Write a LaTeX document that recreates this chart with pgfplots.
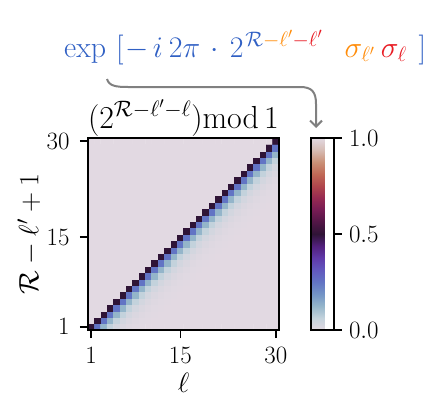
\RequirePackage{fix-cm}
\documentclass[border=0pt]{standalone}
\usepackage{pgfplots}
\pgfplotsset{compat=1.18}
\usetikzlibrary{arrows.meta}
\definecolor{hwblue}{RGB}{48,96,196}
\definecolor{hworange}{RGB}{255,140,10}
\definecolor{hwred}{RGB}{232,28,36}
\pgfplotsset{
  colormap={twilight}{
    rgb255=(226,217,226) rgb255=(195,210,220) rgb255=(148,181,202) rgb255=(115,148,198)
    rgb255=(98,116,196) rgb255=(98,88,190) rgb255=(96,58,170) rgb255=(82,32,125)
    rgb255=(47,20,54) rgb255=(82,22,70) rgb255=(118,28,84) rgb255=(150,42,82)
    rgb255=(176,70,76) rgb255=(192,105,86) rgb255=(202,145,120) rgb255=(214,188,180)
    rgb255=(226,217,226)}
}
\newcommand{\tickfont}{\fontsize{25}{29}\selectfont}
\newcommand{\labfont}{\fontsize{28}{32}\selectfont}
\newcommand{\titfont}{\fontsize{32}{36}\selectfont}
\pgfplotstableread[row sep=\\]{
x y v\\
1 1 0.5\\2 1 0.25\\3 1 0.125\\4 1 0.0625\\5 1 0.031\\6 1 0.016\\7 1 0.008\\8 1 0.004\\9 1 0.002\\10 1 0\\11 1 0\\12 1 0\\13 1 0\\14 1 0\\15 1 0\\16 1 0\\17 1 0\\18 1 0\\19 1 0\\20 1 0\\21 1 0\\22 1 0\\23 1 0\\24 1 0\\25 1 0\\26 1 0\\27 1 0\\28 1 0\\29 1 0\\30 1 0\\
1 2 0\\2 2 0.5\\3 2 0.25\\4 2 0.125\\5 2 0.0625\\6 2 0.031\\7 2 0.016\\8 2 0.008\\9 2 0.004\\10 2 0.002\\11 2 0\\12 2 0\\13 2 0\\14 2 0\\15 2 0\\16 2 0\\17 2 0\\18 2 0\\19 2 0\\20 2 0\\21 2 0\\22 2 0\\23 2 0\\24 2 0\\25 2 0\\26 2 0\\27 2 0\\28 2 0\\29 2 0\\30 2 0\\
1 3 0\\2 3 0\\3 3 0.5\\4 3 0.25\\5 3 0.125\\6 3 0.0625\\7 3 0.031\\8 3 0.016\\9 3 0.008\\10 3 0.004\\11 3 0.002\\12 3 0\\13 3 0\\14 3 0\\15 3 0\\16 3 0\\17 3 0\\18 3 0\\19 3 0\\20 3 0\\21 3 0\\22 3 0\\23 3 0\\24 3 0\\25 3 0\\26 3 0\\27 3 0\\28 3 0\\29 3 0\\30 3 0\\
1 4 0\\2 4 0\\3 4 0\\4 4 0.5\\5 4 0.25\\6 4 0.125\\7 4 0.0625\\8 4 0.031\\9 4 0.016\\10 4 0.008\\11 4 0.004\\12 4 0.002\\13 4 0\\14 4 0\\15 4 0\\16 4 0\\17 4 0\\18 4 0\\19 4 0\\20 4 0\\21 4 0\\22 4 0\\23 4 0\\24 4 0\\25 4 0\\26 4 0\\27 4 0\\28 4 0\\29 4 0\\30 4 0\\
1 5 0\\2 5 0\\3 5 0\\4 5 0\\5 5 0.5\\6 5 0.25\\7 5 0.125\\8 5 0.0625\\9 5 0.031\\10 5 0.016\\11 5 0.008\\12 5 0.004\\13 5 0.002\\14 5 0\\15 5 0\\16 5 0\\17 5 0\\18 5 0\\19 5 0\\20 5 0\\21 5 0\\22 5 0\\23 5 0\\24 5 0\\25 5 0\\26 5 0\\27 5 0\\28 5 0\\29 5 0\\30 5 0\\
1 6 0\\2 6 0\\3 6 0\\4 6 0\\5 6 0\\6 6 0.5\\7 6 0.25\\8 6 0.125\\9 6 0.0625\\10 6 0.031\\11 6 0.016\\12 6 0.008\\13 6 0.004\\14 6 0.002\\15 6 0\\16 6 0\\17 6 0\\18 6 0\\19 6 0\\20 6 0\\21 6 0\\22 6 0\\23 6 0\\24 6 0\\25 6 0\\26 6 0\\27 6 0\\28 6 0\\29 6 0\\30 6 0\\
1 7 0\\2 7 0\\3 7 0\\4 7 0\\5 7 0\\6 7 0\\7 7 0.5\\8 7 0.25\\9 7 0.125\\10 7 0.0625\\11 7 0.031\\12 7 0.016\\13 7 0.008\\14 7 0.004\\15 7 0.002\\16 7 0\\17 7 0\\18 7 0\\19 7 0\\20 7 0\\21 7 0\\22 7 0\\23 7 0\\24 7 0\\25 7 0\\26 7 0\\27 7 0\\28 7 0\\29 7 0\\30 7 0\\
1 8 0\\2 8 0\\3 8 0\\4 8 0\\5 8 0\\6 8 0\\7 8 0\\8 8 0.5\\9 8 0.25\\10 8 0.125\\11 8 0.0625\\12 8 0.031\\13 8 0.016\\14 8 0.008\\15 8 0.004\\16 8 0.002\\17 8 0\\18 8 0\\19 8 0\\20 8 0\\21 8 0\\22 8 0\\23 8 0\\24 8 0\\25 8 0\\26 8 0\\27 8 0\\28 8 0\\29 8 0\\30 8 0\\
1 9 0\\2 9 0\\3 9 0\\4 9 0\\5 9 0\\6 9 0\\7 9 0\\8 9 0\\9 9 0.5\\10 9 0.25\\11 9 0.125\\12 9 0.0625\\13 9 0.031\\14 9 0.016\\15 9 0.008\\16 9 0.004\\17 9 0.002\\18 9 0\\19 9 0\\20 9 0\\21 9 0\\22 9 0\\23 9 0\\24 9 0\\25 9 0\\26 9 0\\27 9 0\\28 9 0\\29 9 0\\30 9 0\\
1 10 0\\2 10 0\\3 10 0\\4 10 0\\5 10 0\\6 10 0\\7 10 0\\8 10 0\\9 10 0\\10 10 0.5\\11 10 0.25\\12 10 0.125\\13 10 0.0625\\14 10 0.031\\15 10 0.016\\16 10 0.008\\17 10 0.004\\18 10 0.002\\19 10 0\\20 10 0\\21 10 0\\22 10 0\\23 10 0\\24 10 0\\25 10 0\\26 10 0\\27 10 0\\28 10 0\\29 10 0\\30 10 0\\
1 11 0\\2 11 0\\3 11 0\\4 11 0\\5 11 0\\6 11 0\\7 11 0\\8 11 0\\9 11 0\\10 11 0\\11 11 0.5\\12 11 0.25\\13 11 0.125\\14 11 0.0625\\15 11 0.031\\16 11 0.016\\17 11 0.008\\18 11 0.004\\19 11 0.002\\20 11 0\\21 11 0\\22 11 0\\23 11 0\\24 11 0\\25 11 0\\26 11 0\\27 11 0\\28 11 0\\29 11 0\\30 11 0\\
1 12 0\\2 12 0\\3 12 0\\4 12 0\\5 12 0\\6 12 0\\7 12 0\\8 12 0\\9 12 0\\10 12 0\\11 12 0\\12 12 0.5\\13 12 0.25\\14 12 0.125\\15 12 0.0625\\16 12 0.031\\17 12 0.016\\18 12 0.008\\19 12 0.004\\20 12 0.002\\21 12 0\\22 12 0\\23 12 0\\24 12 0\\25 12 0\\26 12 0\\27 12 0\\28 12 0\\29 12 0\\30 12 0\\
1 13 0\\2 13 0\\3 13 0\\4 13 0\\5 13 0\\6 13 0\\7 13 0\\8 13 0\\9 13 0\\10 13 0\\11 13 0\\12 13 0\\13 13 0.5\\14 13 0.25\\15 13 0.125\\16 13 0.0625\\17 13 0.031\\18 13 0.016\\19 13 0.008\\20 13 0.004\\21 13 0.002\\22 13 0\\23 13 0\\24 13 0\\25 13 0\\26 13 0\\27 13 0\\28 13 0\\29 13 0\\30 13 0\\
1 14 0\\2 14 0\\3 14 0\\4 14 0\\5 14 0\\6 14 0\\7 14 0\\8 14 0\\9 14 0\\10 14 0\\11 14 0\\12 14 0\\13 14 0\\14 14 0.5\\15 14 0.25\\16 14 0.125\\17 14 0.0625\\18 14 0.031\\19 14 0.016\\20 14 0.008\\21 14 0.004\\22 14 0.002\\23 14 0\\24 14 0\\25 14 0\\26 14 0\\27 14 0\\28 14 0\\29 14 0\\30 14 0\\
1 15 0\\2 15 0\\3 15 0\\4 15 0\\5 15 0\\6 15 0\\7 15 0\\8 15 0\\9 15 0\\10 15 0\\11 15 0\\12 15 0\\13 15 0\\14 15 0\\15 15 0.5\\16 15 0.25\\17 15 0.125\\18 15 0.0625\\19 15 0.031\\20 15 0.016\\21 15 0.008\\22 15 0.004\\23 15 0.002\\24 15 0\\25 15 0\\26 15 0\\27 15 0\\28 15 0\\29 15 0\\30 15 0\\
1 16 0\\2 16 0\\3 16 0\\4 16 0\\5 16 0\\6 16 0\\7 16 0\\8 16 0\\9 16 0\\10 16 0\\11 16 0\\12 16 0\\13 16 0\\14 16 0\\15 16 0\\16 16 0.5\\17 16 0.25\\18 16 0.125\\19 16 0.0625\\20 16 0.031\\21 16 0.016\\22 16 0.008\\23 16 0.004\\24 16 0.002\\25 16 0\\26 16 0\\27 16 0\\28 16 0\\29 16 0\\30 16 0\\
1 17 0\\2 17 0\\3 17 0\\4 17 0\\5 17 0\\6 17 0\\7 17 0\\8 17 0\\9 17 0\\10 17 0\\11 17 0\\12 17 0\\13 17 0\\14 17 0\\15 17 0\\16 17 0\\17 17 0.5\\18 17 0.25\\19 17 0.125\\20 17 0.0625\\21 17 0.031\\22 17 0.016\\23 17 0.008\\24 17 0.004\\25 17 0.002\\26 17 0\\27 17 0\\28 17 0\\29 17 0\\30 17 0\\
1 18 0\\2 18 0\\3 18 0\\4 18 0\\5 18 0\\6 18 0\\7 18 0\\8 18 0\\9 18 0\\10 18 0\\11 18 0\\12 18 0\\13 18 0\\14 18 0\\15 18 0\\16 18 0\\17 18 0\\18 18 0.5\\19 18 0.25\\20 18 0.125\\21 18 0.0625\\22 18 0.031\\23 18 0.016\\24 18 0.008\\25 18 0.004\\26 18 0.002\\27 18 0\\28 18 0\\29 18 0\\30 18 0\\
1 19 0\\2 19 0\\3 19 0\\4 19 0\\5 19 0\\6 19 0\\7 19 0\\8 19 0\\9 19 0\\10 19 0\\11 19 0\\12 19 0\\13 19 0\\14 19 0\\15 19 0\\16 19 0\\17 19 0\\18 19 0\\19 19 0.5\\20 19 0.25\\21 19 0.125\\22 19 0.0625\\23 19 0.031\\24 19 0.016\\25 19 0.008\\26 19 0.004\\27 19 0.002\\28 19 0\\29 19 0\\30 19 0\\
1 20 0\\2 20 0\\3 20 0\\4 20 0\\5 20 0\\6 20 0\\7 20 0\\8 20 0\\9 20 0\\10 20 0\\11 20 0\\12 20 0\\13 20 0\\14 20 0\\15 20 0\\16 20 0\\17 20 0\\18 20 0\\19 20 0\\20 20 0.5\\21 20 0.25\\22 20 0.125\\23 20 0.0625\\24 20 0.031\\25 20 0.016\\26 20 0.008\\27 20 0.004\\28 20 0.002\\29 20 0\\30 20 0\\
1 21 0\\2 21 0\\3 21 0\\4 21 0\\5 21 0\\6 21 0\\7 21 0\\8 21 0\\9 21 0\\10 21 0\\11 21 0\\12 21 0\\13 21 0\\14 21 0\\15 21 0\\16 21 0\\17 21 0\\18 21 0\\19 21 0\\20 21 0\\21 21 0.5\\22 21 0.25\\23 21 0.125\\24 21 0.0625\\25 21 0.031\\26 21 0.016\\27 21 0.008\\28 21 0.004\\29 21 0.002\\30 21 0\\
1 22 0\\2 22 0\\3 22 0\\4 22 0\\5 22 0\\6 22 0\\7 22 0\\8 22 0\\9 22 0\\10 22 0\\11 22 0\\12 22 0\\13 22 0\\14 22 0\\15 22 0\\16 22 0\\17 22 0\\18 22 0\\19 22 0\\20 22 0\\21 22 0\\22 22 0.5\\23 22 0.25\\24 22 0.125\\25 22 0.0625\\26 22 0.031\\27 22 0.016\\28 22 0.008\\29 22 0.004\\30 22 0.002\\
1 23 0\\2 23 0\\3 23 0\\4 23 0\\5 23 0\\6 23 0\\7 23 0\\8 23 0\\9 23 0\\10 23 0\\11 23 0\\12 23 0\\13 23 0\\14 23 0\\15 23 0\\16 23 0\\17 23 0\\18 23 0\\19 23 0\\20 23 0\\21 23 0\\22 23 0\\23 23 0.5\\24 23 0.25\\25 23 0.125\\26 23 0.0625\\27 23 0.031\\28 23 0.016\\29 23 0.008\\30 23 0.004\\
1 24 0\\2 24 0\\3 24 0\\4 24 0\\5 24 0\\6 24 0\\7 24 0\\8 24 0\\9 24 0\\10 24 0\\11 24 0\\12 24 0\\13 24 0\\14 24 0\\15 24 0\\16 24 0\\17 24 0\\18 24 0\\19 24 0\\20 24 0\\21 24 0\\22 24 0\\23 24 0\\24 24 0.5\\25 24 0.25\\26 24 0.125\\27 24 0.0625\\28 24 0.031\\29 24 0.016\\30 24 0.008\\
1 25 0\\2 25 0\\3 25 0\\4 25 0\\5 25 0\\6 25 0\\7 25 0\\8 25 0\\9 25 0\\10 25 0\\11 25 0\\12 25 0\\13 25 0\\14 25 0\\15 25 0\\16 25 0\\17 25 0\\18 25 0\\19 25 0\\20 25 0\\21 25 0\\22 25 0\\23 25 0\\24 25 0\\25 25 0.5\\26 25 0.25\\27 25 0.125\\28 25 0.0625\\29 25 0.031\\30 25 0.016\\
1 26 0\\2 26 0\\3 26 0\\4 26 0\\5 26 0\\6 26 0\\7 26 0\\8 26 0\\9 26 0\\10 26 0\\11 26 0\\12 26 0\\13 26 0\\14 26 0\\15 26 0\\16 26 0\\17 26 0\\18 26 0\\19 26 0\\20 26 0\\21 26 0\\22 26 0\\23 26 0\\24 26 0\\25 26 0\\26 26 0.5\\27 26 0.25\\28 26 0.125\\29 26 0.0625\\30 26 0.031\\
1 27 0\\2 27 0\\3 27 0\\4 27 0\\5 27 0\\6 27 0\\7 27 0\\8 27 0\\9 27 0\\10 27 0\\11 27 0\\12 27 0\\13 27 0\\14 27 0\\15 27 0\\16 27 0\\17 27 0\\18 27 0\\19 27 0\\20 27 0\\21 27 0\\22 27 0\\23 27 0\\24 27 0\\25 27 0\\26 27 0\\27 27 0.5\\28 27 0.25\\29 27 0.125\\30 27 0.0625\\
1 28 0\\2 28 0\\3 28 0\\4 28 0\\5 28 0\\6 28 0\\7 28 0\\8 28 0\\9 28 0\\10 28 0\\11 28 0\\12 28 0\\13 28 0\\14 28 0\\15 28 0\\16 28 0\\17 28 0\\18 28 0\\19 28 0\\20 28 0\\21 28 0\\22 28 0\\23 28 0\\24 28 0\\25 28 0\\26 28 0\\27 28 0\\28 28 0.5\\29 28 0.25\\30 28 0.125\\
1 29 0\\2 29 0\\3 29 0\\4 29 0\\5 29 0\\6 29 0\\7 29 0\\8 29 0\\9 29 0\\10 29 0\\11 29 0\\12 29 0\\13 29 0\\14 29 0\\15 29 0\\16 29 0\\17 29 0\\18 29 0\\19 29 0\\20 29 0\\21 29 0\\22 29 0\\23 29 0\\24 29 0\\25 29 0\\26 29 0\\27 29 0\\28 29 0\\29 29 0.5\\30 29 0.25\\
1 30 0\\2 30 0\\3 30 0\\4 30 0\\5 30 0\\6 30 0\\7 30 0\\8 30 0\\9 30 0\\10 30 0\\11 30 0\\12 30 0\\13 30 0\\14 30 0\\15 30 0\\16 30 0\\17 30 0\\18 30 0\\19 30 0\\20 30 0\\21 30 0\\22 30 0\\23 30 0\\24 30 0\\25 30 0\\26 30 0\\27 30 0\\28 30 0\\29 30 0\\30 30 0.5\\
}\mattable
\begin{document}
\begin{tikzpicture}
\useasboundingbox (0bp,0bp) rectangle (439bp,-398bp);
\begin{axis}[
  at={(88bp,-330bp)}, anchor=south west,
  scale only axis, width=191bp, height=192bp,
  xmin=0.5, xmax=30.5, ymin=0.5, ymax=30.5,
  xtick={1,15,30}, ytick={1,15,30},
  xtick pos=left, ytick pos=left,
  tick align=outside, major tick length=8bp,
  every tick/.style={black, line width=1.5bp},
  axis line style={line width=2bp},
  tick label style={font=\tickfont},
  xticklabel style={yshift=-6bp},
  yticklabel style={xshift=-7bp},
  label style={font=\labfont},
  title style={font=\titfont, yshift=-8bp},
  title={$(2^{\mathcal{R}-\ell'-\ell})\mathrm{mod}\,1$},
  xlabel={$\ell$}, ylabel={$\mathcal{R}-\ell'+1$},
  xlabel style={yshift=-3bp},
  ylabel style={yshift=-1bp},
  colormap name=twilight,
  point meta min=0, point meta max=1,
  axis on top,
  colorbar,
  colorbar style={
    at={(parent axis.north east)}, anchor=north west, xshift=23bp,
    width=23bp, xmin=0, xmax=1, enlargelimits=false,
    ytick={0,0.5,1}, yticklabels={$0.0$,$0.5$,$1.0$},
    ytick pos=right, yticklabel pos=right,
    tick align=outside, major tick length=8bp,
    every tick/.style={black, line width=1.5bp},
    axis line style={line width=2bp},
    yticklabel style={font=\tickfont, xshift=4bp},
  },
]
\addplot[matrix plot*, mesh/cols=30, point meta=explicit] table[x=x, y=y, meta=v] {\mattable};
\end{axis}
\node[anchor=base west, inner sep=0pt] at (64bp,-57bp) {\fontsize{30}{36}\selectfont\color{hwblue}$\mathrm{exp}\hspace{10bp}\Biggl[\hspace{2bp}-\hspace{4bp}i\hspace{6bp}2\pi\hspace{4bp}\cdot\hspace{4bp}2^{\hspace{2bp}\mathcal{R}{\color{hworange}-\ell'}{\color{hwred}-\ell'}}\hspace{22bp}{\color{hworange}\sigma_{\ell'}}\hspace{6bp}{\color{hwred}\sigma_{\ell}}\hspace{12bp}\Biggr]$};
\draw[gray, line width=2bp, -{Straight Barb[length=6bp,width=12bp]}] (107bp,-79bp) .. controls (109bp,-86bp) and (116bp,-87bp) .. (128bp,-87bp) -- (300bp,-87bp) .. controls (312bp,-87bp) and (316bp,-92bp) .. (316bp,-104bp) -- (316bp,-128bp);
\end{tikzpicture}
\end{document}
